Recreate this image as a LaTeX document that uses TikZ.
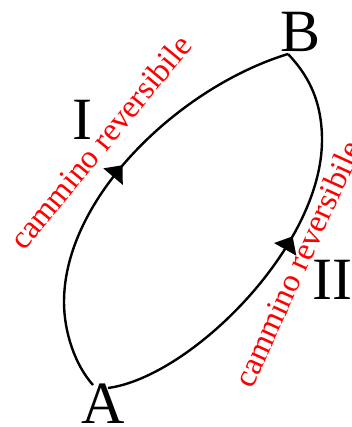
\documentclass[tikz,border=0pt]{standalone}
\usepackage{fontspec}
\setmainfont{Liberation Serif}
\usetikzlibrary{arrows.meta,decorations.markings}
\begin{document}
\begin{tikzpicture}[x=1pt,y=1pt,
  curve/.style={line width=2.4pt, black},
  bigl/.style={font=\fontsize{60}{60}\selectfont, inner sep=0pt, anchor=base},
  redl/.style={font=\fontsize{32.5}{33}\selectfont, text=red, inner sep=0pt, anchor=base west},
  arrowmark/.style={postaction={decorate}, decoration={markings, mark=at position #1 with {\arrow{Triangle[length=15pt,width=25pt]}}}}]
\useasboundingbox (0,0) rectangle (351,427);
\node[bigl] (A) at (103,4) {A};
\node[bigl] (B) at (301,375) {B};
\node[bigl] (I) at (82,287) {I};
\node[bigl] (II) at (332,127) {II};
\coordinate (a1) at (93,42);
\coordinate (a2) at (108,39);
\coordinate (b) at (288,373);
\draw[curve, arrowmark=0.545] (a1) .. controls (75,62) and (64,95) .. (64,125)
   .. controls (64,230) and (180,340) .. (b);
\draw[curve, arrowmark=0.555] (a2) .. controls (190,50) and (322,180) .. (322,287)
   .. controls (322,330) and (305,355) .. (b);
\node[redl, rotate=50.5] (t1) at (24,175) {cammino reversibile};
\node[redl, rotate=65.5] (t2) at (252,37) {cammino reversibile};
\end{tikzpicture}
\end{document}
